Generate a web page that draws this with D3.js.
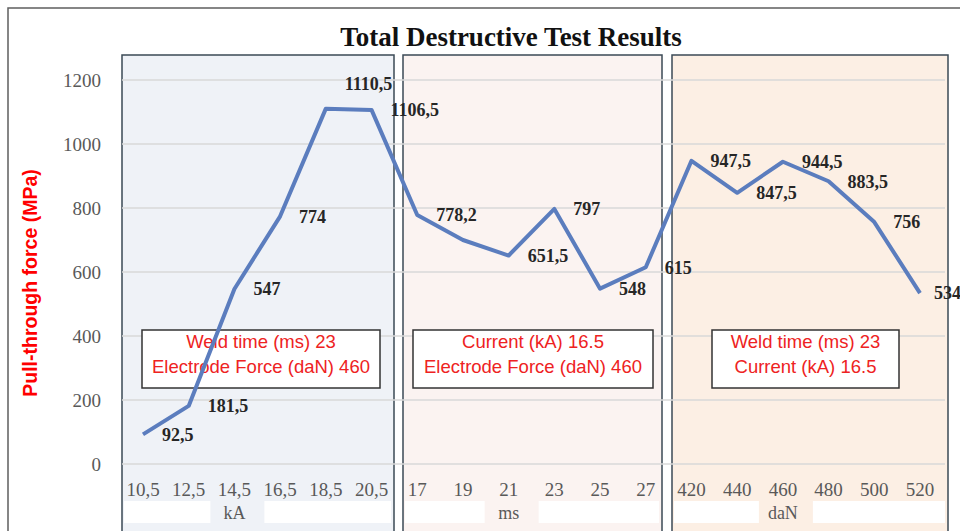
<!DOCTYPE html>
<html>
<head>
<meta charset="utf-8">
<script src="https://cdn.jsdelivr.net/npm/d3@7"></script>
<style>
  body { margin: 0; background: #fff; }
  svg { display: block; }
</style>
</head>
<body>
<svg id="chart" width="960" height="531"></svg>
<script>
// categories (three test series side by side)
const categories = ['10,5', '12,5', '14,5', '16,5', '18,5', '20,5',
  '17', '19', '21', '23', '25', '27',
  '420', '440', '460', '480', '500', '520'];
const values = [92.5, 181.5, 547, 774, 1110.5, 1106.5,
  778.2, 700, 651.5, 797, 548, 615,
  947.5, 847.5, 944.5, 883.5, 756, 534];
const yTicks = [0, 200, 400, 600, 800, 1000, 1200];
const groupStart = [0, 6, 12];
const groupUnits = ['kA', 'ms', 'daN'];
const groupNotes = [
  ['Weld time (ms) 23', 'Electrode Force (daN) 460'],
  ['Current (kA) 16.5', 'Electrode Force (daN) 460'],
  ['Weld time (ms) 23', 'Current (kA) 16.5']
];

// layout
const panelFill = ['#eff2f7', '#fbf3f1', '#fcefe4'];
const panelX = [[122, 394], [403, 662], [672, 948]];
const noteX = [[142, 380], [413, 653], [712, 899]];
const hiddenLabels = [7];
const liftedLabels = { 4: -25 };

const svg = d3.select('#chart');
const serif = '"Liberation Serif", "Times New Roman", serif';
const sans = '"Liberation Sans", Arial, sans-serif';

const x = d3.scalePoint().domain(d3.range(categories.length)).range([143, 920]);
const y = d3.scaleLinear().domain([0, 1200]).range([464, 80]);

// outer frame
svg.append('rect')
  .attr('x', 8).attr('y', 8).attr('width', 970).attr('height', 540)
  .attr('fill', '#fff').attr('stroke', '#5f5f5f').attr('stroke-width', 1.5);

svg.append('text')
  .attr('x', 511).attr('y', 46)
  .attr('text-anchor', 'middle')
  .style('font', `bold 27px ${serif}`)
  .attr('fill', '#111')
  .text('Total Destructive Test Results');

// panels
const panels = svg.append('g');
groupStart.forEach((s, i) => {
  const [l, r] = panelX[i];
  panels.append('rect')
    .attr('x', l).attr('y', 55).attr('width', r - l).attr('height', 490)
    .attr('fill', panelFill[i]).attr('stroke', '#3b4a55').attr('stroke-width', 1.5);
  const cx = x(s + 2);
  panels.append('rect')
    .attr('x', l + 2).attr('y', 501).attr('width', cx - 24 - l - 2).attr('height', 22)
    .attr('fill', '#fff');
  panels.append('rect')
    .attr('x', cx + 30).attr('y', 501).attr('width', r - 3 - cx - 30).attr('height', 22)
    .attr('fill', '#fff');
  panels.append('text')
    .attr('x', cx).attr('y', 519)
    .attr('text-anchor', 'middle')
    .style('font', `18px ${serif}`)
    .attr('fill', '#595959')
    .text(groupUnits[i]);
});

// grid + y axis
svg.append('g').selectAll('line')
  .data(yTicks).enter().append('line')
  .attr('x1', 122).attr('x2', 945)
  .attr('y1', d => y(d)).attr('y2', d => y(d))
  .attr('stroke', '#d9d9d9').attr('stroke-width', 1.5);

svg.append('g').selectAll('text')
  .data(yTicks).enter().append('text')
  .attr('x', 101).attr('y', d => y(d))
  .attr('dy', '0.35em')
  .attr('text-anchor', 'end')
  .style('font', `19px ${serif}`)
  .attr('fill', '#595959')
  .text(d => d);

svg.append('text')
  .attr('transform', 'translate(37,283) rotate(-90)')
  .attr('text-anchor', 'middle')
  .style('font', `bold 19.5px ${sans}`)
  .attr('fill', '#ff0000')
  .text('Pull-through force (MPa)');

// x tick labels
svg.append('g').selectAll('text')
  .data(categories).enter().append('text')
  .attr('x', (d, i) => x(i)).attr('y', 489)
  .attr('dy', '0.35em')
  .attr('text-anchor', 'middle')
  .style('font', `19px ${serif}`)
  .attr('fill', '#595959')
  .text(d => d);

// notes
groupNotes.forEach((lines, i) => {
  const [l, r] = noteX[i];
  const g = svg.append('g');
  g.append('rect')
    .attr('x', l).attr('y', 330).attr('width', r - l).attr('height', 58)
    .attr('fill', '#fff').attr('stroke', '#333').attr('stroke-width', 1.5);
  lines.forEach((t, k) => {
    g.append('text')
      .attr('x', (l + r) / 2).attr('y', 342 + k * 25)
      .attr('dy', '0.35em')
      .attr('text-anchor', 'middle')
      .style('font', `18.5px ${sans}`)
      .attr('fill', '#ee2222')
      .text(t);
  });
});

// series line
const line = d3.line()
  .x((d, i) => x(i))
  .y(d => y(d));

svg.append('path')
  .datum(values)
  .attr('d', line)
  .attr('fill', 'none')
  .attr('stroke', '#5b7dbe')
  .attr('stroke-width', 4)
  .attr('stroke-linejoin', 'round');

// data labels
svg.append('g').selectAll('text')
  .data(values.map((v, i) => ({ v, i })).filter(d => !hiddenLabels.includes(d.i)))
  .enter().append('text')
  .attr('x', d => x(d.i) + (d.i === values.length - 1 ? 14 : 19))
  .attr('y', d => y(d.v) + (liftedLabels[d.i] || 0))
  .attr('dy', '0.35em')
  .style('font', `bold 18px ${serif}`)
  .attr('fill', '#262626')
  .text(d => String(d.v).replace('.', ','));
</script>
</body>
</html>
